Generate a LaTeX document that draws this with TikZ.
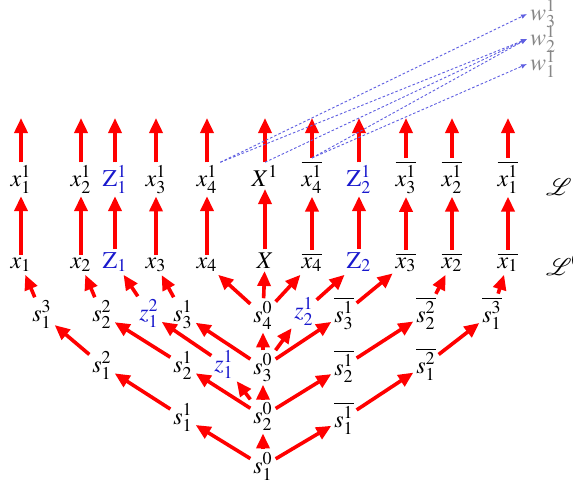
\documentclass[tikz,border=0pt]{standalone}
\usepackage{mathptmx}
\usetikzlibrary{arrows.meta}
\definecolor{zblue}{RGB}{25,25,205}
\definecolor{wgray}{RGB}{135,135,135}
\definecolor{dblue}{RGB}{95,95,225}
\begin{document}
\begin{tikzpicture}[x=0.5pt,y=-0.5pt,
  lab/.style={anchor=base,inner sep=1.3pt,font=\fontsize{12}{14}\selectfont},
  zlab/.style={lab,text=zblue},
  wlab/.style={anchor=west,inner sep=1.3pt,text=wgray,font=\fontsize{12}{14}\selectfont},
  ra/.style={draw=red,line width=1.8pt,-{Triangle[length=7.5pt,width=6.5pt]},fill=red},
  da/.style={draw=dblue,line width=0.45pt,dash pattern=on 1.3pt off 1pt,-{Latex[length=3pt,width=2.4pt]}}]
\useasboundingbox (0,0) rectangle (573,483);

% x^1 row
\node[lab] (x11) at (21,186) {$x_1^1$};
\node[lab] (x21) at (81,186) {$x_2^1$};
\node[zlab] (Z11) at (115,186) {$\mathrm{Z}_1^1$};
\node[lab] (x31) at (156,186) {$x_3^1$};
\node[lab] (x41) at (207,186) {$x_4^1$};
\node[lab] (X1) at (265,186) {$X^1$};
\node[lab] (bx41) at (312,186) {$\overline{x_4^1}$};
\node[zlab] (Z21) at (359,186) {$\mathrm{Z}_2^1$};
\node[lab] (bx31) at (406,186) {$\overline{x_3^1}$};
\node[lab] (bx21) at (452,186) {$\overline{x_2^1}$};
\node[lab] (bx11) at (508,186) {$\overline{x_1^1}$};

% x row
\node[lab] (x1) at (21,268) {$x_1$};
\node[lab] (x2) at (81,268) {$x_2$};
\node[zlab] (Z1) at (115,268) {$\mathrm{Z}_1$};
\node[lab] (x3) at (156,268) {$x_3$};
\node[lab] (x4) at (207,268) {$x_4$};
\node[lab] (X) at (265,268) {$X$};
\node[lab] (bx4) at (312,268) {$\overline{x_4}$};
\node[zlab] (Z2) at (359,268) {$\mathrm{Z}_2$};
\node[lab] (bx3) at (406,268) {$\overline{x_3}$};
\node[lab] (bx2) at (452,268) {$\overline{x_2}$};
\node[lab] (bx1) at (508,268) {$\overline{x_1}$};

% top free ends
\foreach \n/\xx in {1/21,2/81,3/115,4/156,5/207,6/265,7/312,8/359,9/406,10/452,11/508}
  \coordinate (t\n) at (\xx,118);

% s rows
\node[lab] (s13) at (42,321) {$s_1^3$};
\node[lab] (s22) at (102,321) {$s_2^2$};
\node[zlab] (z12) at (149,320) {$z_1^2$};
\node[lab] (s31) at (183,321) {$s_3^1$};
\node[lab] (s40) at (263,322) {$s_4^0$};
\node[zlab] (z21) at (304,318) {$z_2^1$};
\node[lab] (bs31) at (344,322) {$\overline{s_3^1}$};
\node[lab] (bs22) at (426,322) {$\overline{s_2^2}$};
\node[lab] (bs13) at (492,322) {$\overline{s_1^3}$};

\node[lab] (s12) at (102,372) {$s_1^2$};
\node[lab] (s21) at (183,372) {$s_2^1$};
\node[zlab] (z11) at (224,371) {$z_1^1$};
\node[lab] (s30) at (263,374) {$s_3^0$};
\node[lab] (bs21) at (344,375) {$\overline{s_2^1}$};
\node[lab] (bs12) at (426,373) {$\overline{s_1^2}$};

\node[lab] (s11) at (183,424) {$s_1^1$};
\node[lab] (s20) at (263,423) {$s_2^0$};
\node[lab] (bs11) at (344,427) {$\overline{s_1^1}$};

\node[lab] (s10) at (263,473) {$s_1^0$};

% w and L labels
\node[wlab] (w3) at (527,14) {$w_3^1$};
\node[wlab] (w2) at (527,39) {$w_2^1$};
\node[wlab] (w1) at (527,64) {$w_1^1$};
\node[lab,anchor=base west] (L1) at (543,195) {$\mathcal{L}^1$};
\node[lab,anchor=base west] (L0) at (543,275) {$\mathcal{L}^0$};

% vertical arrows
\draw[ra] (x1) -- (x11); \draw[ra] (x2) -- (x21); \draw[ra] (Z1) -- (Z11);
\draw[ra] (x3) -- (x31); \draw[ra] (x4) -- (x41); \draw[ra] (X) -- (X1);
\draw[ra] (bx4) -- (bx41); \draw[ra] (Z2) -- (Z21); \draw[ra] (bx3) -- (bx31);
\draw[ra] (bx2) -- (bx21); \draw[ra] (bx1) -- (bx11);
\draw[ra] (x11) -- (t1); \draw[ra] (x21) -- (t2); \draw[ra] (Z11) -- (t3);
\draw[ra] (x31) -- (t4); \draw[ra] (x41) -- (t5); \draw[ra] (X1) -- (t6);
\draw[ra] (bx41) -- (t7); \draw[ra] (Z21) -- (t8); \draw[ra] (bx31) -- (t9);
\draw[ra] (bx21) -- (t10); \draw[ra] (bx11) -- (t11);

% tree arrows
\draw[ra] (s10) -- (s20); \draw[ra] (s10) -- (s11); \draw[ra] (s10) -- (bs11);
\draw[ra] (s20) -- (s30); \draw[ra] (s20) -- (z11); \draw[ra] (s20) -- (s21); \draw[ra] (s20) -- (bs21);
\draw[ra] (s11) -- (s12); \draw[ra] (bs11) -- (bs12);
\draw[ra] (s30) -- (s40); \draw[ra] (s30) -- (s31); \draw[ra] (s30) -- (z21); \draw[ra] (s30) -- (bs31);
\draw[ra] (z11) -- (z12); \draw[ra] (s21) -- (s22); \draw[ra] (s12) -- (s13);
\draw[ra] (bs21) -- (bs22); \draw[ra] (bs12) -- (bs13);
\draw[ra] (s40) -- (x4); \draw[ra] (s40) -- (X); \draw[ra] (s40) -- (bx4);
\draw[ra] (s13) -- (x1); \draw[ra] (s22) -- (x2); \draw[ra] (z12) -- (Z1);
\draw[ra] (s31) -- (x3); \draw[ra] (z21) -- (Z2); \draw[ra] (bs31) -- (bx3);
\draw[ra] (bs22) -- (bx2); \draw[ra] (bs13) -- (bx1);

% dashed links
\draw[da] (x41.north east) -- (w3.west);
\draw[da] (x41.north east) -- (w2.west);
\draw[da] (X1.north) -- (w2.west);
\draw[da] (bx41.north) -- (w2.west);
\draw[da] (bx41.north) -- (w1.west);
\end{tikzpicture}
\end{document}
